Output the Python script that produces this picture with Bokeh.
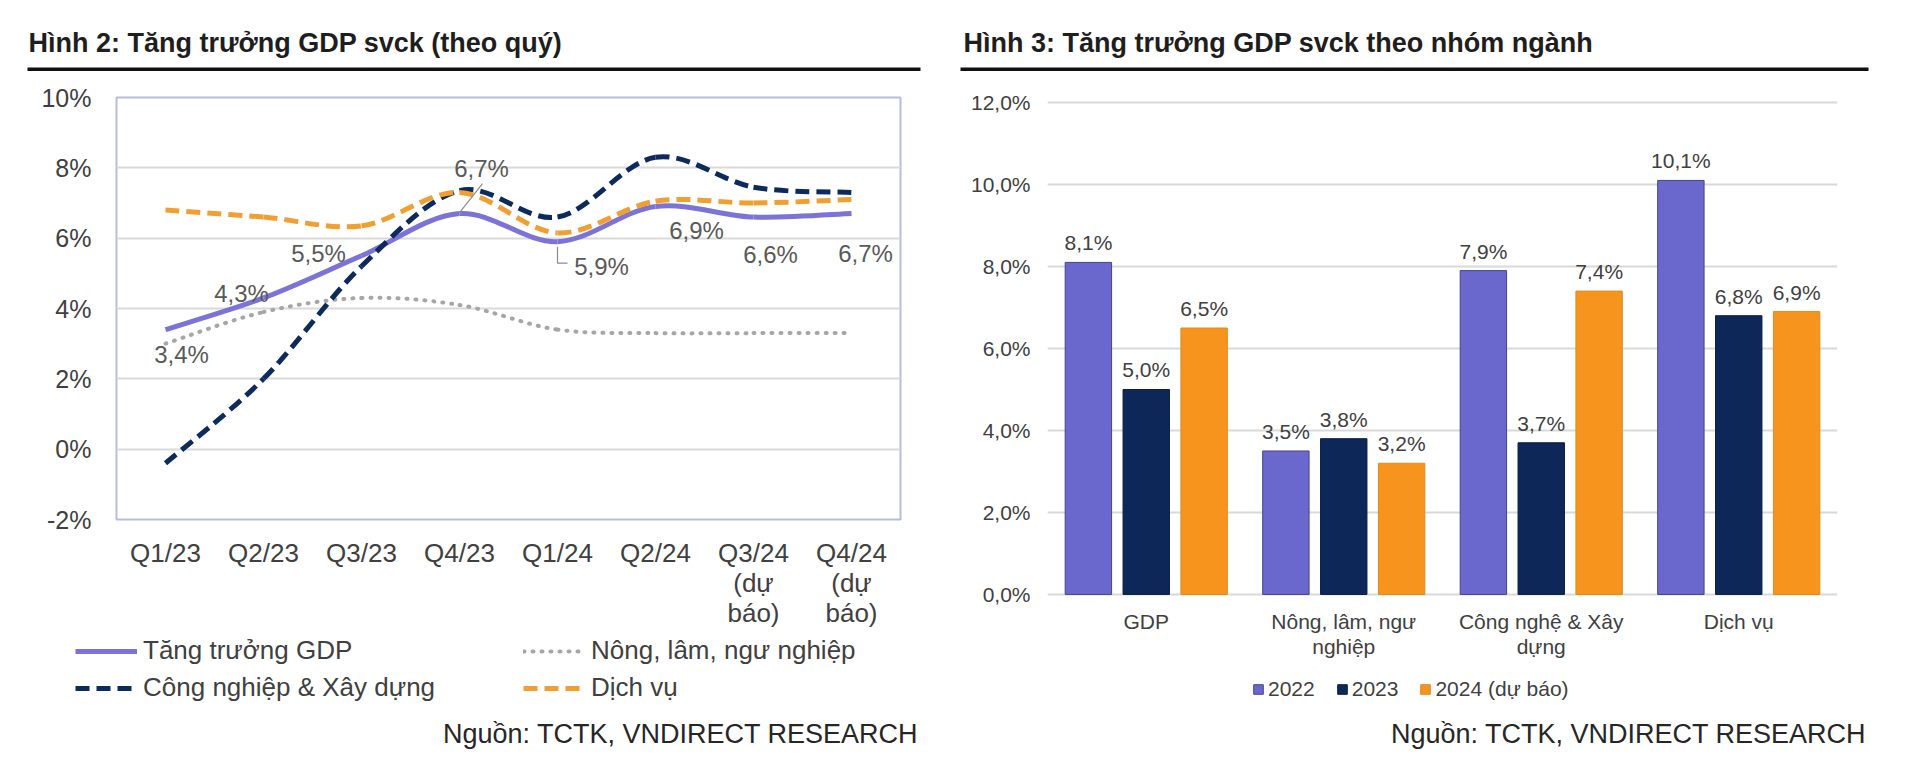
from bokeh.plotting import figure
from bokeh.layouts import row, column
from bokeh.models import (Range1d, FixedTicker, Legend, LegendItem, Label,
                          ColumnDataSource)
from bokeh.core.properties import value
from bokeh.embed import file_html
from bokeh.resources import INLINE

FONT = "Liberation Sans"
TXT = "#404040"

# ---------------- data: left chart (Hình 2) ----------------
quarters = ["Q1/23", "Q2/23", "Q3/23", "Q4/23", "Q1/24", "Q2/24",
            "Q3/24\n(dự\nbáo)", "Q4/24\n(dự\nbáo)"]
gdp = [3.4, 4.3, 5.5, 6.7, 5.9, 6.9, 6.6, 6.7]
nong_lam = [3.0, 3.9, 4.3, 4.1, 3.4, 3.3, 3.3, 3.3]
cong_nghiep = [-0.4, 2.0, 5.2, 7.35, 6.6, 8.3, 7.45, 7.3]
dich_vu = [6.8, 6.6, 6.35, 7.3, 6.15, 7.05, 7.0, 7.1]
left_series_names = ["Tăng trưởng GDP", "Nông, lâm, ngư nghiệp",
                     "Công nghiệp & Xây dựng", "Dịch vụ"]
left_yticks = [-2, 0, 2, 4, 6, 8, 10]

# ---------------- data: right chart (Hình 3) ----------------
sectors = ["GDP", "Nông, lâm, ngư\nnghiệp", "Công nghệ & Xây\ndựng", "Dịch vụ"]
years = ["2022", "2023", "2024 (dự báo)"]
v2022 = [8.1, 3.5, 7.9, 10.1]
v2023 = [5.0, 3.8, 3.7, 6.8]
v2024 = [6.5, 3.2, 7.4, 6.9]
right_yticks = [0, 2, 4, 6, 8, 10, 12]

source_text = "Nguồn: TCTK, VNDIRECT RESEARCH"
title_left = "Hình 2: Tăng trưởng GDP svck (theo quý)"
title_right = "Hình 3: Tăng trưởng GDP svck theo nhóm ngành"


def pct(v):
    return f"{v:.1f}".replace(".", ",") + "%"


def smooth_segments(ys):
    """Cubic Bezier pieces (Excel-like smoothed line) through the data points."""
    n = len(ys)
    pts = [(float(i), float(y)) for i, y in enumerate(ys)]
    d = {k: [] for k in ("x0", "y0", "x1", "y1", "cx0", "cy0", "cx1", "cy1")}
    for i in range(n - 1):
        p0 = pts[i - 1] if i > 0 else pts[i]
        p1, p2 = pts[i], pts[i + 1]
        p3 = pts[i + 2] if i + 2 < n else pts[i + 1]
        d["x0"].append(p1[0]); d["y0"].append(p1[1])
        d["x1"].append(p2[0]); d["y1"].append(p2[1])
        d["cx0"].append(p1[0] + (p2[0] - p0[0]) / 6)
        d["cy0"].append(p1[1] + (p2[1] - p0[1]) / 6)
        d["cx1"].append(p2[0] - (p3[0] - p1[0]) / 6)
        d["cy1"].append(p2[1] - (p3[1] - p1[1]) / 6)
    return ColumnDataSource(d)


def title_fig(text, width, left, rule_w, offset):
    f = figure(width=width, height=71, toolbar_location=None, output_backend="svg",
               x_range=Range1d(0, 1), y_range=Range1d(0, 1),
               x_axis_location=None, y_axis_location=None,
               min_border_left=left, min_border_right=width - left - rule_w,
               min_border_top=67, min_border_bottom=0, frame_align=False)
    f.background_fill_color = "#111111"
    f.outline_line_color = None
    f.grid.visible = False
    f.title.text = text
    f.title.text_font = FONT
    f.title.text_font_size = "27px"
    f.title.text_font_style = "bold"
    f.title.text_color = "#1e1e1e"
    f.title.align = "left"
    f.title.offset = offset
    f.title.standoff = 20
    return f


def bottom_fig(width, height):
    f = figure(width=width, height=height, toolbar_location=None,
               output_backend="svg", x_range=Range1d(0, 1), y_range=Range1d(0, 1),
               x_axis_location=None, y_axis_location=None,
               min_border_left=0, min_border_right=0, min_border_top=0,
               min_border_bottom=0, frame_align=False)
    f.outline_line_color = None
    f.grid.visible = False
    return f


def source_label(x, y):
    return Label(x=x, y=y, x_units="screen", y_units="screen", text=source_text,
                 text_align="right", text_baseline="middle", text_font=FONT,
                 text_font_size="27px", text_color="#262626")


def style_axes(p, size):
    for ax in (p.xaxis[0], p.yaxis[0]):
        ax.axis_line_color = None
        ax.major_tick_line_color = None
        ax.minor_tick_line_color = None
        ax.major_label_text_font = FONT
        ax.major_label_text_color = TXT
        ax.major_label_text_font_size = size


# ================= LEFT CHART =================
tl = title_fig(title_left, 958, 27, 893, 1)

PL_H = 26 + 423 + 110
pl = figure(width=958, height=PL_H, toolbar_location=None, output_backend="svg",
            x_range=Range1d(-0.5, len(quarters) - 0.5), y_range=Range1d(-2, 10),
            min_border_left=116, min_border_right=58,
            min_border_top=26, min_border_bottom=110, frame_align=False)
pl.outline_line_color = "#b7bddf"
pl.outline_line_width = 2
pl.xgrid.visible = False
pl.ygrid.grid_line_color = "#d9d9d9"
pl.ygrid.grid_line_width = 2
pl.yaxis.ticker = FixedTicker(ticks=left_yticks)
pl.yaxis.major_label_overrides = {t: f"{t}%" for t in left_yticks}
pl.xaxis.ticker = FixedTicker(ticks=list(range(len(quarters))))
pl.xaxis.major_label_overrides = {i: q for i, q in enumerate(quarters)}
style_axes(pl, "26px")
pl.yaxis.major_label_text_font_size = "25px"
pl.yaxis.major_label_standoff = 19
pl.xaxis.major_label_standoff = 12
pl.xaxis.major_label_text_line_height = 1.0

styles = [
    dict(line_color="#7b73d8", line_width=5, line_dash="solid"),
    dict(line_color="#a6a6a6", line_width=4, line_dash="1 8", line_cap="round"),
    dict(line_color="#0c2a5c", line_width=5, line_dash="14 7"),
    dict(line_color="#f0a033", line_width=5, line_dash="14 7"),
]
left_series = [gdp, nong_lam, cong_nghiep, dich_vu]
for ys, st in zip(left_series, styles):
    pl.bezier(x0="x0", y0="y0", x1="x1", y1="y1", cx0="cx0", cy0="cy0",
              cx1="cx1", cy1="cy1", source=smooth_segments(ys), **st)

# data labels on the GDP line (pixel offsets of each label from its point)
lab_dx = [16, -22, -43, 22, 44, 41, 17, 14]
lab_dy = [25, -4, -2, -45, 25, 24, 37, 40]
pl.text(x=list(range(len(gdp))), y=gdp, text=[pct(v) for v in gdp],
        x_offset=lab_dx, y_offset=lab_dy, text_align="center",
        text_baseline="middle", text_font=value(FONT), text_font_size="24px",
        text_color="#595959")
# leader lines (from data point, offsets in px converted through the frame scale)
xpp = (len(quarters)) / 784.0
ypp = 12.0 / 423.0
i4 = 3
pl.segment(x0=[i4 + 23 * xpp], y0=[gdp[i4] + 30 * ypp],
           x1=[i4 + 0 * xpp], y1=[gdp[i4] + 1 * ypp],
           line_color="#8c8c8c", line_width=1.2)
i5 = 4
pl.line(x=[i5, i5, i5 + 10 * xpp],
        y=[gdp[i5] - 5 * ypp, gdp[i5] - 21.5 * ypp, gdp[i5] - 21.5 * ypp],
        line_color="#8c8c8c", line_width=1.2)

# legend + source strip under the left chart (legend swatches come from
# off-screen proxy renderers that only carry the series styles)
bl = bottom_fig(958, 765 - 71 - PL_H)
legend_items = []
for name, st in zip(left_series_names, styles):
    proxy = bl.line(x=[-10, -9], y=[-10, -10], **st)
    legend_items.append(LegendItem(label=name, renderers=[proxy]))
leg_l = Legend(items=legend_items, location=(75, 62), orientation="horizontal",
               ncols=2, glyph_width=62, glyph_height=20, label_standoff=6,
               label_width=374, label_height=30, spacing=6, padding=0, margin=0,
               border_line_color=None, background_fill_alpha=0,
               label_text_font=FONT, label_text_font_size="26px",
               label_text_color=TXT)
bl.add_layout(leg_l)
bl.add_layout(source_label(918, 32))

# ================= RIGHT CHART =================
tr = title_fig(title_right, 954, 2, 908, 3)

PR_H = 29 + 496 + 75
pr = figure(width=954, height=PR_H, toolbar_location=None, output_backend="svg",
            x_range=Range1d(-0.5, len(sectors) - 0.5), y_range=Range1d(-0.05, 12.05),
            min_border_left=89, min_border_right=75,
            min_border_top=29, min_border_bottom=75, frame_align=False)
pr.outline_line_color = None
pr.xgrid.visible = False
pr.ygrid.grid_line_color = "#d9d9d9"
pr.ygrid.grid_line_width = 2
pr.yaxis.ticker = FixedTicker(ticks=right_yticks)
pr.yaxis.major_label_overrides = {t: pct(t) for t in right_yticks}
pr.xaxis.ticker = FixedTicker(ticks=list(range(len(sectors))))
pr.xaxis.major_label_overrides = {i: s for i, s in enumerate(sectors)}
style_axes(pr, "21px")
pr.yaxis.major_label_standoff = 11
pr.xaxis.major_label_standoff = 7
pr.xaxis.major_label_text_line_height = 1.1

bar_colors = ["#6a67cd", "#0c2758", "#f7941e"]
bar_edges = ["#45448f", "#0a1f45", "#e08a20"]
offsets = [-0.293, 0.0, 0.293]
for vals, col, edge, off in zip([v2022, v2023, v2024], bar_colors, bar_edges,
                                offsets):
    src = ColumnDataSource(dict(x=[i + off for i in range(len(sectors))],
                                top=vals, lab=[pct(v) for v in vals]))
    pr.vbar(x="x", top="top", bottom=0, width=0.235, source=src,
            fill_color=col, line_color=edge, line_width=1)
    pr.text(x="x", y="top", text="lab", source=src, y_offset=-8,
            text_align="center", text_baseline="bottom", text_font=value(FONT),
            text_font_size="21px", text_color=TXT)

br = bottom_fig(954, 765 - 71 - PR_H)
bar_items = []
for yr, col, edge in zip(years, bar_colors, bar_edges):
    proxy = br.vbar(x=[-10], top=[-5], bottom=-6, width=0.1, fill_color=col,
                    line_color=edge)
    bar_items.append(LegendItem(label=yr, renderers=[proxy]))
leg_r = Legend(items=bar_items, location=(294, 64), orientation="horizontal",
               glyph_width=12, glyph_height=12, label_standoff=4, spacing=21,
               label_height=25, padding=0, margin=0, border_line_color=None,
               background_fill_alpha=0, label_text_font=FONT,
               label_text_font_size="21px", label_text_color=TXT)
br.add_layout(leg_r)
br.add_layout(source_label(908, 32))

layout = row(column(tl, pl, bl), column(tr, pr, br))
open("out.html", "w").write(file_html(layout, INLINE))
